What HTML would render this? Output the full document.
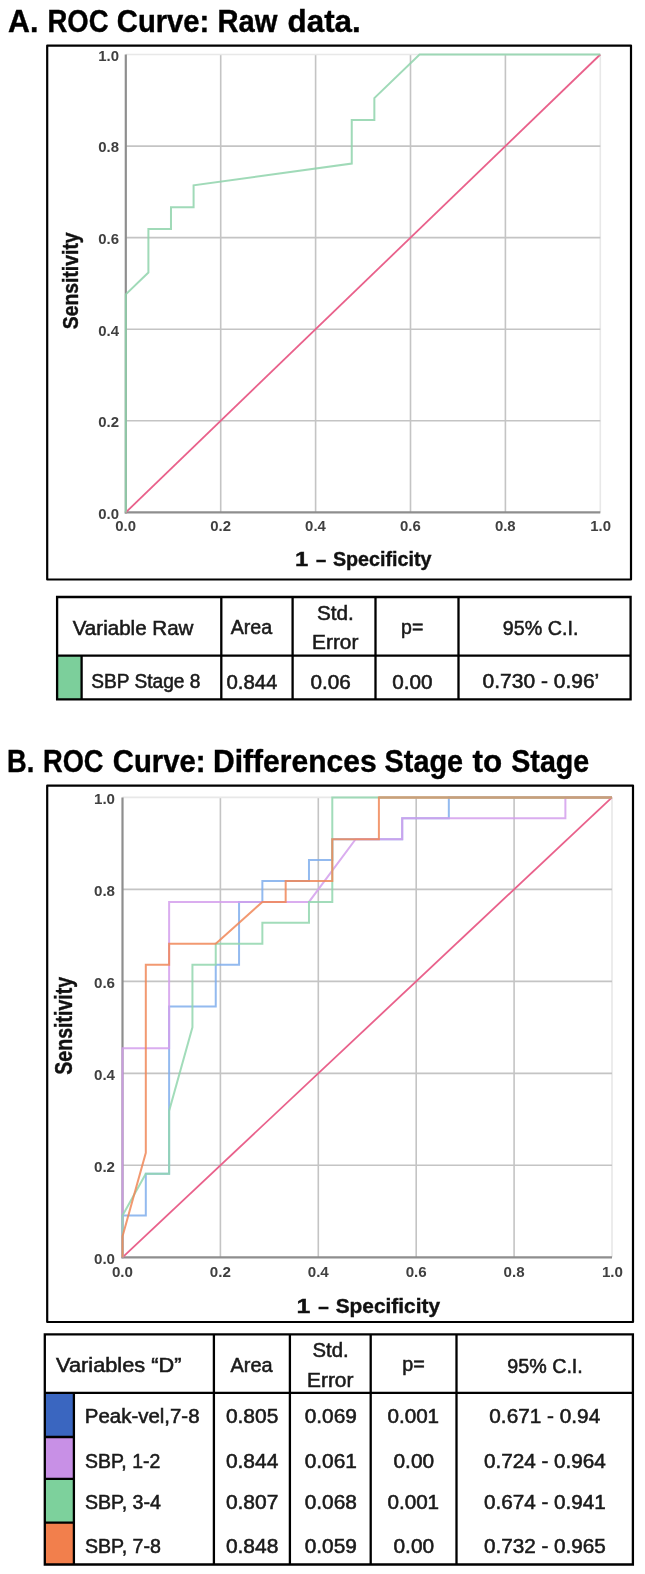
<!DOCTYPE html><html><head><meta charset="utf-8"><style>html,body{margin:0;padding:0;background:#fff;width:645px;height:1574px;overflow:hidden}svg{display:block;filter:blur(0.35px)}text{font-family:"Liberation Sans",sans-serif}</style></head><body><svg width="645" height="1574" viewBox="0 0 645 1574">
<rect width="645" height="1574" fill="#ffffff"/>
<rect x="47.2" y="45.6" width="583.8" height="533.9" fill="none" stroke="#000" stroke-width="2.2" stroke-linejoin="round"/>
<rect x="47.2" y="785.6" width="585.8" height="536.4" fill="none" stroke="#000" stroke-width="2.2" stroke-linejoin="round"/>
<line x1="220.70" y1="54.50" x2="220.70" y2="512.40" stroke="#c4c4c4" stroke-width="1.6"/>
<line x1="315.60" y1="54.50" x2="315.60" y2="512.40" stroke="#c4c4c4" stroke-width="1.6"/>
<line x1="410.50" y1="54.50" x2="410.50" y2="512.40" stroke="#c4c4c4" stroke-width="1.6"/>
<line x1="505.40" y1="54.50" x2="505.40" y2="512.40" stroke="#c4c4c4" stroke-width="1.6"/>
<line x1="600.30" y1="54.50" x2="600.30" y2="512.40" stroke="#e8e8e8" stroke-width="1.6"/>
<line x1="125.80" y1="420.82" x2="600.30" y2="420.82" stroke="#c4c4c4" stroke-width="1.6"/>
<line x1="125.80" y1="329.24" x2="600.30" y2="329.24" stroke="#c4c4c4" stroke-width="1.6"/>
<line x1="125.80" y1="237.66" x2="600.30" y2="237.66" stroke="#c4c4c4" stroke-width="1.6"/>
<line x1="125.80" y1="146.08" x2="600.30" y2="146.08" stroke="#c4c4c4" stroke-width="1.6"/>
<line x1="125.80" y1="54.50" x2="600.30" y2="54.50" stroke="#e8e8e8" stroke-width="1.6"/>
<line x1="125.80" y1="54.50" x2="125.80" y2="513.40" stroke="#8e8e8e" stroke-width="2.2"/>
<line x1="124.80" y1="512.40" x2="600.30" y2="512.40" stroke="#8e8e8e" stroke-width="2.2"/>
<line x1="125.80" y1="512.40" x2="600.30" y2="54.50" stroke="#e9618b" stroke-width="1.8"/>
<polyline points="125.80,512.40 125.80,294.35 148.40,272.55 148.40,228.94 170.99,228.94 170.99,207.13 193.59,207.13 193.59,185.33 351.75,163.52 351.75,119.91 374.35,119.91 374.35,98.11 419.54,54.50 600.30,54.50" fill="none" stroke="#8fd4ab" stroke-width="2.00" stroke-opacity="0.85" stroke-linejoin="miter"/>
<line x1="220.40" y1="797.40" x2="220.40" y2="1257.30" stroke="#c4c4c4" stroke-width="1.6"/>
<line x1="318.30" y1="797.40" x2="318.30" y2="1257.30" stroke="#c4c4c4" stroke-width="1.6"/>
<line x1="416.20" y1="797.40" x2="416.20" y2="1257.30" stroke="#c4c4c4" stroke-width="1.6"/>
<line x1="514.10" y1="797.40" x2="514.10" y2="1257.30" stroke="#c4c4c4" stroke-width="1.6"/>
<line x1="612.00" y1="797.40" x2="612.00" y2="1257.30" stroke="#e8e8e8" stroke-width="1.6"/>
<line x1="122.50" y1="1165.32" x2="612.00" y2="1165.32" stroke="#c4c4c4" stroke-width="1.6"/>
<line x1="122.50" y1="1073.34" x2="612.00" y2="1073.34" stroke="#c4c4c4" stroke-width="1.6"/>
<line x1="122.50" y1="981.36" x2="612.00" y2="981.36" stroke="#c4c4c4" stroke-width="1.6"/>
<line x1="122.50" y1="889.38" x2="612.00" y2="889.38" stroke="#c4c4c4" stroke-width="1.6"/>
<line x1="122.50" y1="797.40" x2="612.00" y2="797.40" stroke="#e8e8e8" stroke-width="1.6"/>
<line x1="122.50" y1="797.40" x2="122.50" y2="1258.30" stroke="#8e8e8e" stroke-width="2.2"/>
<line x1="121.50" y1="1257.30" x2="612.00" y2="1257.30" stroke="#8e8e8e" stroke-width="2.2"/>
<line x1="122.50" y1="1257.30" x2="612.00" y2="797.40" stroke="#e9618b" stroke-width="1.8"/>
<polyline points="122.50,1257.30 122.50,1215.49 145.81,1215.49 145.81,1173.68 169.12,1173.68 169.12,1006.45 215.74,1006.45 215.74,964.64 239.05,964.64 239.05,901.92 262.36,901.92 262.36,881.02 308.98,881.02 308.98,860.11 332.29,860.11 332.29,839.21 402.21,839.21 402.21,818.30 448.83,818.30 448.83,797.40 612.00,797.40" fill="none" stroke="#80aeec" stroke-width="2.00" stroke-opacity="0.85" stroke-linejoin="miter"/>
<polyline points="122.50,1257.30 122.50,1048.25 169.12,1048.25 169.12,901.92 308.98,901.92 355.60,839.21 402.21,839.21 402.21,818.30 565.38,818.30 565.38,797.40 612.00,797.40" fill="none" stroke="#d49fec" stroke-width="2.00" stroke-opacity="0.85" stroke-linejoin="miter"/>
<polyline points="122.50,1257.30 122.50,1215.49 145.81,1173.68 169.12,1173.68 169.12,1110.97 192.43,1027.35 192.43,964.64 215.74,964.64 215.74,943.73 262.36,943.73 262.36,922.83 308.98,922.83 308.98,901.92 332.29,901.92 332.29,797.40 612.00,797.40" fill="none" stroke="#92d6ae" stroke-width="2.00" stroke-opacity="0.85" stroke-linejoin="miter"/>
<polyline points="122.50,1257.30 122.50,1236.40 145.81,1152.78 145.81,964.64 169.12,964.64 169.12,943.73 215.74,943.73 262.36,901.92 285.67,901.92 285.67,881.02 332.29,881.02 332.29,839.21 378.90,839.21 378.90,797.40 612.00,797.40" fill="none" stroke="#f08758" stroke-width="2.00" stroke-opacity="0.85" stroke-linejoin="miter"/>
<line x1="378.90" y1="797.40" x2="612.00" y2="797.40" stroke="#c8a07a" stroke-width="2.0"/>
<rect x="57.1" y="655.6" width="24.5" height="43.8" fill="#7ccf9b"/>
<path d="M57.1 597.0 H630.6 V699.4 H57.1 Z M57.1 655.6 H630.6 M81.6 655.6 V699.4 M221.3 597.0 V699.4 M292.6 597.0 V699.4 M375.5 597.0 V699.4 M458.5 597.0 V699.4 " stroke="#000" stroke-width="2.3" fill="none"/>
<rect x="44.8" y="1392.8" width="29.1" height="44.2" fill="#3a66c0"/>
<rect x="44.8" y="1437.0" width="29.1" height="41.9" fill="#c890e6"/>
<rect x="44.8" y="1478.9" width="29.1" height="43.7" fill="#7dd19c"/>
<rect x="44.8" y="1522.6" width="29.1" height="41.9" fill="#f27f4c"/>
<path d="M44.8 1334.3 H632.9 V1564.5 H44.8 Z M44.8 1392.8 H632.9 M73.9 1392.8 V1564.5 M44.8 1437.0 H73.9 M44.8 1478.9 H73.9 M44.8 1522.6 H73.9 M213.9 1334.3 V1564.5 M289.9 1334.3 V1564.5 M370.7 1334.3 V1564.5 M456.5 1334.3 V1564.5 " stroke="#000" stroke-width="2.3" fill="none"/>
<text x="8.03" y="31.80" font-family="Liberation Sans" font-size="31.40" fill="#000" font-weight="bold" stroke="#000" stroke-width="0.40" textLength="30.32" lengthAdjust="spacingAndGlyphs">A.</text>
<text x="47.45" y="31.80" font-family="Liberation Sans" font-size="31.40" fill="#000" font-weight="bold" stroke="#000" stroke-width="0.40" textLength="61.12" lengthAdjust="spacingAndGlyphs">ROC</text>
<text x="116.77" y="31.80" font-family="Liberation Sans" font-size="31.40" fill="#000" font-weight="bold" stroke="#000" stroke-width="0.40" textLength="92.60" lengthAdjust="spacingAndGlyphs">Curve:</text>
<text x="217.44" y="31.80" font-family="Liberation Sans" font-size="31.40" fill="#000" font-weight="bold" stroke="#000" stroke-width="0.40" textLength="59.94" lengthAdjust="spacingAndGlyphs">Raw</text>
<text x="287.60" y="31.80" font-family="Liberation Sans" font-size="31.40" fill="#000" font-weight="bold" stroke="#000" stroke-width="0.40" textLength="73.16" lengthAdjust="spacingAndGlyphs">data.</text>
<text x="7.06" y="771.60" font-family="Liberation Sans" font-size="31.40" fill="#000" font-weight="bold" stroke="#000" stroke-width="0.40" textLength="27.26" lengthAdjust="spacingAndGlyphs">B.</text>
<text x="42.96" y="771.60" font-family="Liberation Sans" font-size="31.40" fill="#000" font-weight="bold" stroke="#000" stroke-width="0.40" textLength="60.60" lengthAdjust="spacingAndGlyphs">ROC</text>
<text x="112.77" y="771.60" font-family="Liberation Sans" font-size="31.40" fill="#000" font-weight="bold" stroke="#000" stroke-width="0.40" textLength="92.81" lengthAdjust="spacingAndGlyphs">Curve:</text>
<text x="212.99" y="771.60" font-family="Liberation Sans" font-size="31.40" fill="#000" font-weight="bold" stroke="#000" stroke-width="0.40" textLength="163.66" lengthAdjust="spacingAndGlyphs">Differences</text>
<text x="384.58" y="771.60" font-family="Liberation Sans" font-size="31.40" fill="#000" font-weight="bold" stroke="#000" stroke-width="0.40" textLength="78.46" lengthAdjust="spacingAndGlyphs">Stage</text>
<text x="472.60" y="771.60" font-family="Liberation Sans" font-size="31.40" fill="#000" font-weight="bold" stroke="#000" stroke-width="0.40" textLength="29.64" lengthAdjust="spacingAndGlyphs">to</text>
<text x="511.29" y="771.60" font-family="Liberation Sans" font-size="31.40" fill="#000" font-weight="bold" stroke="#000" stroke-width="0.40" textLength="77.95" lengthAdjust="spacingAndGlyphs">Stage</text>
<text x="98.20" y="518.80" font-family="Liberation Sans" font-size="13.90" fill="#404040" font-weight="bold" textLength="20.74" lengthAdjust="spacingAndGlyphs">0.0</text>
<text x="115.30" y="530.50" font-family="Liberation Sans" font-size="13.90" fill="#404040" font-weight="bold" textLength="20.74" lengthAdjust="spacingAndGlyphs">0.0</text>
<text x="98.20" y="427.22" font-family="Liberation Sans" font-size="13.90" fill="#404040" font-weight="bold" textLength="20.74" lengthAdjust="spacingAndGlyphs">0.2</text>
<text x="210.20" y="530.50" font-family="Liberation Sans" font-size="13.90" fill="#404040" font-weight="bold" textLength="20.74" lengthAdjust="spacingAndGlyphs">0.2</text>
<text x="98.20" y="335.64" font-family="Liberation Sans" font-size="13.90" fill="#404040" font-weight="bold" textLength="20.74" lengthAdjust="spacingAndGlyphs">0.4</text>
<text x="305.10" y="530.50" font-family="Liberation Sans" font-size="13.90" fill="#404040" font-weight="bold" textLength="20.74" lengthAdjust="spacingAndGlyphs">0.4</text>
<text x="98.20" y="244.06" font-family="Liberation Sans" font-size="13.90" fill="#404040" font-weight="bold" textLength="20.74" lengthAdjust="spacingAndGlyphs">0.6</text>
<text x="400.00" y="530.50" font-family="Liberation Sans" font-size="13.90" fill="#404040" font-weight="bold" textLength="20.74" lengthAdjust="spacingAndGlyphs">0.6</text>
<text x="98.20" y="152.48" font-family="Liberation Sans" font-size="13.90" fill="#404040" font-weight="bold" textLength="20.74" lengthAdjust="spacingAndGlyphs">0.8</text>
<text x="494.90" y="530.50" font-family="Liberation Sans" font-size="13.90" fill="#404040" font-weight="bold" textLength="20.74" lengthAdjust="spacingAndGlyphs">0.8</text>
<text x="98.20" y="60.90" font-family="Liberation Sans" font-size="13.90" fill="#404040" font-weight="bold" textLength="20.74" lengthAdjust="spacingAndGlyphs">1.0</text>
<text x="590.26" y="530.50" font-family="Liberation Sans" font-size="13.90" fill="#404040" font-weight="bold" textLength="20.74" lengthAdjust="spacingAndGlyphs">1.0</text>
<text x="94.00" y="1263.70" font-family="Liberation Sans" font-size="13.90" fill="#404040" font-weight="bold" textLength="21.04" lengthAdjust="spacingAndGlyphs">0.0</text>
<text x="111.95" y="1277.00" font-family="Liberation Sans" font-size="13.90" fill="#404040" font-weight="bold" textLength="21.04" lengthAdjust="spacingAndGlyphs">0.0</text>
<text x="94.00" y="1171.72" font-family="Liberation Sans" font-size="13.90" fill="#404040" font-weight="bold" textLength="21.04" lengthAdjust="spacingAndGlyphs">0.2</text>
<text x="209.85" y="1277.00" font-family="Liberation Sans" font-size="13.90" fill="#404040" font-weight="bold" textLength="21.04" lengthAdjust="spacingAndGlyphs">0.2</text>
<text x="94.00" y="1079.74" font-family="Liberation Sans" font-size="13.90" fill="#404040" font-weight="bold" textLength="21.04" lengthAdjust="spacingAndGlyphs">0.4</text>
<text x="307.75" y="1277.00" font-family="Liberation Sans" font-size="13.90" fill="#404040" font-weight="bold" textLength="21.04" lengthAdjust="spacingAndGlyphs">0.4</text>
<text x="94.00" y="987.76" font-family="Liberation Sans" font-size="13.90" fill="#404040" font-weight="bold" textLength="21.04" lengthAdjust="spacingAndGlyphs">0.6</text>
<text x="405.65" y="1277.00" font-family="Liberation Sans" font-size="13.90" fill="#404040" font-weight="bold" textLength="21.04" lengthAdjust="spacingAndGlyphs">0.6</text>
<text x="94.00" y="895.78" font-family="Liberation Sans" font-size="13.90" fill="#404040" font-weight="bold" textLength="21.04" lengthAdjust="spacingAndGlyphs">0.8</text>
<text x="503.55" y="1277.00" font-family="Liberation Sans" font-size="13.90" fill="#404040" font-weight="bold" textLength="21.04" lengthAdjust="spacingAndGlyphs">0.8</text>
<text x="94.00" y="803.80" font-family="Liberation Sans" font-size="13.90" fill="#404040" font-weight="bold" textLength="21.04" lengthAdjust="spacingAndGlyphs">1.0</text>
<text x="601.91" y="1277.00" font-family="Liberation Sans" font-size="13.90" fill="#404040" font-weight="bold" textLength="21.04" lengthAdjust="spacingAndGlyphs">1.0</text>
<text x="295.02" y="566.00" font-family="Liberation Sans" font-size="20.80" fill="#111111" font-weight="bold" stroke="#111111" stroke-width="0.40" textLength="13.31" lengthAdjust="spacingAndGlyphs">1</text>
<text x="315.90" y="566.00" font-family="Liberation Sans" font-size="20.80" fill="#111111" font-weight="bold" stroke="#111111" stroke-width="0.40" textLength="10.21" lengthAdjust="spacingAndGlyphs">–</text>
<text x="332.90" y="566.00" font-family="Liberation Sans" font-size="20.80" fill="#111111" font-weight="bold" stroke="#111111" stroke-width="0.40" textLength="98.53" lengthAdjust="spacingAndGlyphs">Specificity</text>
<text x="296.50" y="1313.30" font-family="Liberation Sans" font-size="20.80" fill="#111111" font-weight="bold" stroke="#111111" stroke-width="0.40" textLength="13.89" lengthAdjust="spacingAndGlyphs">1</text>
<text x="318.30" y="1313.30" font-family="Liberation Sans" font-size="20.80" fill="#111111" font-weight="bold" stroke="#111111" stroke-width="0.40" textLength="10.53" lengthAdjust="spacingAndGlyphs">–</text>
<text x="335.70" y="1313.30" font-family="Liberation Sans" font-size="20.80" fill="#111111" font-weight="bold" stroke="#111111" stroke-width="0.40" textLength="104.33" lengthAdjust="spacingAndGlyphs">Specificity</text>
<text transform="translate(77.80 329.30) rotate(-90)" x="-0.00" y="0" font-family="Liberation Sans" font-size="22.00" fill="#111111" font-weight="bold" stroke="#111111" stroke-width="0.40" textLength="96.94" lengthAdjust="spacingAndGlyphs">Sensitivity</text>
<text transform="translate(71.80 1074.70) rotate(-90)" x="-0.00" y="0" font-family="Liberation Sans" font-size="23.20" fill="#111111" font-weight="bold" stroke="#111111" stroke-width="0.40" textLength="97.89" lengthAdjust="spacingAndGlyphs">Sensitivity</text>
<text x="72.70" y="634.50" font-family="Liberation Sans" font-size="20.20" fill="#1a1a1a" stroke="#1a1a1a" stroke-width="0.55" textLength="120.75" lengthAdjust="spacingAndGlyphs">Variable Raw</text>
<text x="230.70" y="634.00" font-family="Liberation Sans" font-size="20.20" fill="#1a1a1a" stroke="#1a1a1a" stroke-width="0.55" textLength="41.47" lengthAdjust="spacingAndGlyphs">Area</text>
<text x="316.97" y="619.90" font-family="Liberation Sans" font-size="20.20" fill="#1a1a1a" stroke="#1a1a1a" stroke-width="0.55" textLength="36.87" lengthAdjust="spacingAndGlyphs">Std.</text>
<text x="312.07" y="649.20" font-family="Liberation Sans" font-size="20.20" fill="#1a1a1a" stroke="#1a1a1a" stroke-width="0.55" textLength="46.30" lengthAdjust="spacingAndGlyphs">Error</text>
<text x="401.03" y="633.90" font-family="Liberation Sans" font-size="20.20" fill="#1a1a1a" stroke="#1a1a1a" stroke-width="0.55" textLength="22.30" lengthAdjust="spacingAndGlyphs">p=</text>
<text x="502.82" y="634.70" font-family="Liberation Sans" font-size="20.20" fill="#1a1a1a" stroke="#1a1a1a" stroke-width="0.55" textLength="75.56" lengthAdjust="spacingAndGlyphs">95% C.I.</text>
<text x="91.25" y="688.20" font-family="Liberation Sans" font-size="20.20" fill="#1a1a1a" stroke="#1a1a1a" stroke-width="0.55" textLength="109.17" lengthAdjust="spacingAndGlyphs">SBP Stage 8</text>
<text x="226.40" y="688.50" font-family="Liberation Sans" font-size="20.20" fill="#1a1a1a" stroke="#1a1a1a" stroke-width="0.55" textLength="51.04" lengthAdjust="spacingAndGlyphs">0.844</text>
<text x="310.60" y="688.50" font-family="Liberation Sans" font-size="20.20" fill="#1a1a1a" stroke="#1a1a1a" stroke-width="0.55" textLength="40.30" lengthAdjust="spacingAndGlyphs">0.06</text>
<text x="392.30" y="688.50" font-family="Liberation Sans" font-size="20.20" fill="#1a1a1a" stroke="#1a1a1a" stroke-width="0.55" textLength="40.30" lengthAdjust="spacingAndGlyphs">0.00</text>
<text x="482.60" y="688.20" font-family="Liberation Sans" font-size="20.20" fill="#1a1a1a" stroke="#1a1a1a" stroke-width="0.55" textLength="116.64" lengthAdjust="spacingAndGlyphs">0.730 - 0.96’</text>
<text x="56.10" y="1372.30" font-family="Liberation Sans" font-size="20.20" fill="#1a1a1a" stroke="#1a1a1a" stroke-width="0.55" textLength="125.32" lengthAdjust="spacingAndGlyphs">Variables “D”</text>
<text x="230.60" y="1372.30" font-family="Liberation Sans" font-size="20.20" fill="#1a1a1a" stroke="#1a1a1a" stroke-width="0.55" textLength="42.06" lengthAdjust="spacingAndGlyphs">Area</text>
<text x="312.59" y="1357.20" font-family="Liberation Sans" font-size="20.20" fill="#1a1a1a" stroke="#1a1a1a" stroke-width="0.55" textLength="36.13" lengthAdjust="spacingAndGlyphs">Std.</text>
<text x="306.96" y="1386.90" font-family="Liberation Sans" font-size="20.20" fill="#1a1a1a" stroke="#1a1a1a" stroke-width="0.55" textLength="46.51" lengthAdjust="spacingAndGlyphs">Error</text>
<text x="402.22" y="1371.00" font-family="Liberation Sans" font-size="20.20" fill="#1a1a1a" stroke="#1a1a1a" stroke-width="0.55" textLength="22.51" lengthAdjust="spacingAndGlyphs">p=</text>
<text x="507.33" y="1373.30" font-family="Liberation Sans" font-size="20.20" fill="#1a1a1a" stroke="#1a1a1a" stroke-width="0.55" textLength="75.46" lengthAdjust="spacingAndGlyphs">95% C.I.</text>
<text x="84.89" y="1423.40" font-family="Liberation Sans" font-size="20.20" fill="#1a1a1a" stroke="#1a1a1a" stroke-width="0.55" textLength="114.64" lengthAdjust="spacingAndGlyphs">Peak-vel,7-8</text>
<text x="225.90" y="1423.40" font-family="Liberation Sans" font-size="20.20" fill="#1a1a1a" stroke="#1a1a1a" stroke-width="0.55" textLength="52.45" lengthAdjust="spacingAndGlyphs">0.805</text>
<text x="304.70" y="1423.40" font-family="Liberation Sans" font-size="20.20" fill="#1a1a1a" stroke="#1a1a1a" stroke-width="0.55" textLength="52.15" lengthAdjust="spacingAndGlyphs">0.069</text>
<text x="387.40" y="1423.40" font-family="Liberation Sans" font-size="20.20" fill="#1a1a1a" stroke="#1a1a1a" stroke-width="0.55" textLength="51.74" lengthAdjust="spacingAndGlyphs">0.001</text>
<text x="489.30" y="1423.40" font-family="Liberation Sans" font-size="20.20" fill="#1a1a1a" stroke="#1a1a1a" stroke-width="0.55" textLength="110.94" lengthAdjust="spacingAndGlyphs">0.671 - 0.94</text>
<text x="84.94" y="1467.50" font-family="Liberation Sans" font-size="20.20" fill="#1a1a1a" stroke="#1a1a1a" stroke-width="0.55" textLength="75.34" lengthAdjust="spacingAndGlyphs">SBP, 1-2</text>
<text x="225.90" y="1467.50" font-family="Liberation Sans" font-size="20.20" fill="#1a1a1a" stroke="#1a1a1a" stroke-width="0.55" textLength="52.45" lengthAdjust="spacingAndGlyphs">0.844</text>
<text x="304.70" y="1467.50" font-family="Liberation Sans" font-size="20.20" fill="#1a1a1a" stroke="#1a1a1a" stroke-width="0.55" textLength="52.15" lengthAdjust="spacingAndGlyphs">0.061</text>
<text x="393.50" y="1467.50" font-family="Liberation Sans" font-size="20.20" fill="#1a1a1a" stroke="#1a1a1a" stroke-width="0.55" textLength="40.61" lengthAdjust="spacingAndGlyphs">0.00</text>
<text x="483.90" y="1467.50" font-family="Liberation Sans" font-size="20.20" fill="#1a1a1a" stroke="#1a1a1a" stroke-width="0.55" textLength="121.98" lengthAdjust="spacingAndGlyphs">0.724 - 0.964</text>
<text x="84.93" y="1509.10" font-family="Liberation Sans" font-size="20.20" fill="#1a1a1a" stroke="#1a1a1a" stroke-width="0.55" textLength="75.95" lengthAdjust="spacingAndGlyphs">SBP, 3-4</text>
<text x="225.90" y="1509.10" font-family="Liberation Sans" font-size="20.20" fill="#1a1a1a" stroke="#1a1a1a" stroke-width="0.55" textLength="52.45" lengthAdjust="spacingAndGlyphs">0.807</text>
<text x="304.70" y="1509.10" font-family="Liberation Sans" font-size="20.20" fill="#1a1a1a" stroke="#1a1a1a" stroke-width="0.55" textLength="52.15" lengthAdjust="spacingAndGlyphs">0.068</text>
<text x="387.40" y="1509.10" font-family="Liberation Sans" font-size="20.20" fill="#1a1a1a" stroke="#1a1a1a" stroke-width="0.55" textLength="51.74" lengthAdjust="spacingAndGlyphs">0.001</text>
<text x="483.90" y="1509.10" font-family="Liberation Sans" font-size="20.20" fill="#1a1a1a" stroke="#1a1a1a" stroke-width="0.55" textLength="121.98" lengthAdjust="spacingAndGlyphs">0.674 - 0.941</text>
<text x="84.93" y="1552.80" font-family="Liberation Sans" font-size="20.20" fill="#1a1a1a" stroke="#1a1a1a" stroke-width="0.55" textLength="75.95" lengthAdjust="spacingAndGlyphs">SBP, 7-8</text>
<text x="225.90" y="1552.80" font-family="Liberation Sans" font-size="20.20" fill="#1a1a1a" stroke="#1a1a1a" stroke-width="0.55" textLength="52.45" lengthAdjust="spacingAndGlyphs">0.848</text>
<text x="304.70" y="1552.80" font-family="Liberation Sans" font-size="20.20" fill="#1a1a1a" stroke="#1a1a1a" stroke-width="0.55" textLength="52.15" lengthAdjust="spacingAndGlyphs">0.059</text>
<text x="393.50" y="1552.80" font-family="Liberation Sans" font-size="20.20" fill="#1a1a1a" stroke="#1a1a1a" stroke-width="0.55" textLength="40.61" lengthAdjust="spacingAndGlyphs">0.00</text>
<text x="483.90" y="1552.80" font-family="Liberation Sans" font-size="20.20" fill="#1a1a1a" stroke="#1a1a1a" stroke-width="0.55" textLength="121.98" lengthAdjust="spacingAndGlyphs">0.732 - 0.965</text>
</svg></body></html>
